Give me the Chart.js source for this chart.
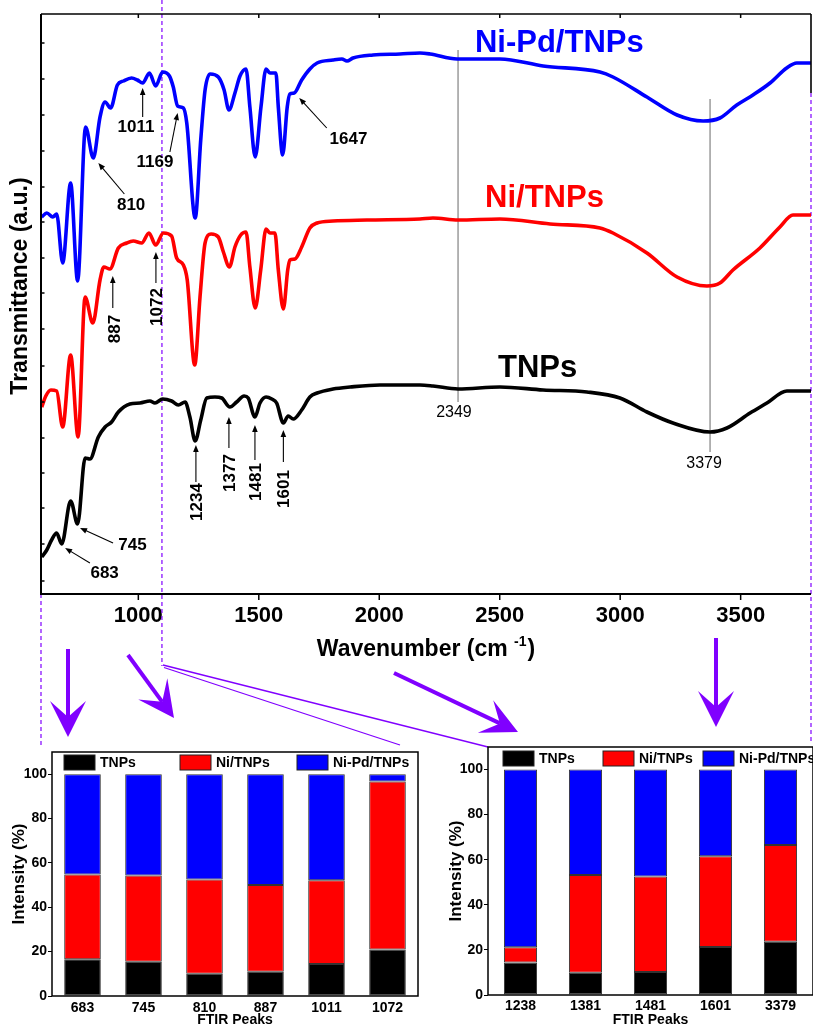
<!DOCTYPE html>
<html>
<head>
<meta charset="utf-8">
<script src="https://cdn.jsdelivr.net/npm/chart.js@4.4.1/dist/chart.umd.min.js"></script>
<style>
  html, body { margin: 0; padding: 0; background: #fff; }
  #wrap { position: relative; width: 813px; height: 1027px; overflow: hidden; }
  canvas { position: absolute; }
</style>
</head>
<body>
<div id="wrap">
  <canvas id="ftir" width="813" height="1027" style="left:0;top:0"></canvas>
  <canvas id="barsLow" width="420" height="330" style="left:0;top:700px"></canvas>
  <canvas id="barsHigh" width="393" height="330" style="left:420px;top:700px"></canvas>
</div>
<script>
const FONT = '"Liberation Sans", Arial, Helvetica, sans-serif';
const PURPLE = '#8000ff';

// FTIR spectra: wavenumber (cm-1) and transmittance (a.u.)
const tnpsWn = [599,620,640,661,682,719,748,779,799,834,862,889,917,965,1007,1048,1069,1101,1138,1166,1194,1214,1236,1259,1284,1318,1346,1380,1408,1439,1456,1484,1505,1530,1554,1574,1602,1622,1643,1678,1712,1742,1808,1879,2003,2169,2223,2327,2501,2680,2862,2999,3111,3219,3373,3443,3539,3609,3692,3792];
const tnpsT = [37,44,54,61,50,93,70,136,135,157,167,172,182,190,191,193,191,195,193,189,192,177,153,174,196,197,196,187,192,198,196,177,191,197,195,191,171,178,175,184,197,201,205,207,209,209,208,205,207,204,202,196,182,171,162,166,181,191,203,203];

const niWn = [599,616,637,661,686,719,750,779,811,841,857,882,917,952,979,1014,1044,1072,1104,1138,1159,1187,1203,1234,1256,1277,1302,1332,1353,1378,1401,1425,1447,1463,1485,1508,1530,1546,1567,1581,1602,1620,1629,1650,1678,1712,1742,1808,1949,2169,2223,2327,2501,2709,2916,2970,3111,3236,3360,3414,3468,3580,3663,3717,3792];
const niT = [187,198,204,203,167,239,157,297,271,314,327,325,346,351,353,351,361,349,361,358,336,329,314,229,297,351,360,357,342,327,347,359,362,327,286,324,365,361,361,324,285,324,334,335,347,366,371,373,374,375,376,374,375,370,366,361,341,317,308,311,324,346,367,379,379];

const nipdWn = [599,620,645,661,686,719,748,781,813,841,862,885,913,938,972,996,1018,1046,1072,1101,1129,1145,1163,1187,1201,1236,1259,1277,1298,1332,1356,1376,1401,1422,1447,1463,1485,1509,1530,1546,1571,1581,1599,1618,1629,1647,1678,1712,1742,1808,1845,1866,1891,1974,2086,2169,2211,2323,2501,2680,2916,2970,3111,3236,3344,3414,3484,3551,3622,3691,3733,3792];
const nipdT = [377,381,377,380,331,411,313,467,436,477,492,486,509,513,516,514,511,521,508,522,518,507,488,486,471,376,454,504,520,517,504,484,501,518,525,487,437,487,525,521,521,487,439,487,500,501,514,525,531,534,535,533,536,539,540,541,540,535,535,528,522,517,497,479,473,476,489,499,511,526,531,531];

const wnTicks = [1000, 1500, 2000, 2500, 3000, 3500];
const transTicks = [13, 50, 86, 121, 156, 192, 228, 265, 301, 336, 372, 407, 443, 479, 515, 551];

// relative peak intensities (%)
const lowPeaks = ['683', '745', '810', '887', '1011', '1072'];
const lowTnps = [16.6, 15.4, 10.0, 10.9, 14.4, 21.0];
const lowNi = [38.2, 38.9, 42.5, 39.1, 37.8, 75.7];
const lowNiPd = [45.2, 45.7, 47.5, 50.0, 47.8, 3.3];

const highPeaks = ['1238', '1381', '1481', '1601', '3379'];
const highTnps = [14.4, 9.9, 10.2, 21.3, 23.6];
const highNi = [6.8, 43.3, 42.4, 40.2, 42.9];
const highNiPd = [78.8, 46.8, 47.4, 38.5, 33.5];

const seriesNames = ['TNPs', 'Ni/TNPs', 'Ni-Pd/TNPs'];
const seriesColors = ['#000000', '#ff0000', '#0000ff'];

// annotations, placed in data units of the spectrum chart
const peakNotes = [
    {text: '1011', at: [990, 468], from: [1018, 477], to: [1018, 506]},
    {text: '1169', at: [1069, 433], from: [1131, 442], to: [1163, 481]},
    {text: '810', at: [970, 390], from: [942, 400], to: [834, 431]},
    {text: '1647', at: [1872, 456], from: [1782, 466], to: [1668, 496]},
    {text: '887', at: [899, 265], from: [894, 286], to: [894, 318], rot: true},
    {text: '1072', at: [1073, 287], from: [1073, 311], to: [1073, 342], rot: true},
    {text: '1234', at: [1239, 92], from: [1239, 112], to: [1239, 149], rot: true},
    {text: '1377', at: [1376, 121], from: [1376, 146], to: [1376, 177], rot: true},
    {text: '1481', at: [1484, 112], from: [1484, 134], to: [1484, 169], rot: true},
    {text: '1601', at: [1602, 105], from: [1602, 132], to: [1602, 164], rot: true},
    {text: '745', at: [976, 50], from: [895, 51], to: [758, 66]},
    {text: '683', at: [860, 22], from: [799, 31], to: [696, 46]}
];
const refLines = [
    {wn: 2327, top: 544, bottom: 192, text: '2349', at: [2310, 181]},
    {wn: 3373, top: 495, bottom: 142, text: '3379', at: [3348, 130]}
];
const seriesTags = [
    {text: 'Ni-Pd/TNPs', at: [2397, 542], color: '#0000ff'},
    {text: 'Ni/TNPs', at: [2439, 387], color: '#ff0000'},
    {text: 'TNPs', at: [2493, 217], color: '#000000'}
];
const guideWn = 1098;
// page-pixel pointers from the spectrum to the bar charts
const pointers = [[68, 649, 68, 737], [128, 655, 174, 718], [394, 673, 518, 732], [716, 638, 716, 727]];

function line(ctx, x1, y1, x2, y2) {
    ctx.beginPath();
    ctx.moveTo(x1, y1);
    ctx.lineTo(x2, y2);
    ctx.stroke();
}

function thinArrow(ctx, x1, y1, x2, y2) {
    const L = Math.hypot(x2 - x1, y2 - y1), ux = (x2 - x1) / L, uy = (y2 - y1) / L;
    const hl = 7, hw = 2.8;
    line(ctx, x1, y1, x2 - ux * hl * 0.8, y2 - uy * hl * 0.8);
    ctx.beginPath();
    ctx.moveTo(x2, y2);
    ctx.lineTo(x2 - ux * hl - uy * hw, y2 - uy * hl + ux * hw);
    ctx.lineTo(x2 - ux * hl + uy * hw, y2 - uy * hl - ux * hw);
    ctx.closePath();
    ctx.fill();
}

function fatArrow(ctx, x1, y1, x2, y2) {
    const L = Math.hypot(x2 - x1, y2 - y1), ux = (x2 - x1) / L, uy = (y2 - y1) / L;
    const px = -uy, py = ux, hl = 36, hw = 18, nd = 20;
    const nx = x2 - ux * nd, ny = y2 - uy * nd;
    ctx.lineWidth = 4;
    line(ctx, x1, y1, nx, ny);
    ctx.beginPath();
    ctx.moveTo(x2, y2);
    ctx.lineTo(x2 - ux * hl + px * hw, y2 - uy * hl + py * hw);
    ctx.lineTo(nx, ny);
    ctx.lineTo(x2 - ux * hl - px * hw, y2 - uy * hl - py * hw);
    ctx.closePath();
    ctx.fill();
}

const ftirDecor = {
    id: 'ftirDecor',
    beforeDatasetsDraw(chart) {
        const {ctx, chartArea: a, scales: {x, y}} = chart;
        ctx.save();
        ctx.strokeStyle = '#8c8c8c';
        ctx.lineWidth = 1.3;
        refLines.forEach(r => {
            const px = x.getPixelForValue(r.wn);
            line(ctx, px, y.getPixelForValue(r.top), px, y.getPixelForValue(r.bottom));
        });

        ctx.strokeStyle = PURPLE;
        ctx.lineWidth = 1.2;
        ctx.setLineDash([4, 3]);
        const gx = x.getPixelForValue(guideWn);
        line(ctx, gx, 0, gx, 666);
        line(ctx, a.left, a.bottom, a.left, 748);
        line(ctx, a.right, 93, a.right, 742);
        ctx.setLineDash([]);
        ctx.lineWidth = 1.3;
        line(ctx, gx + 1, 665, 488, 747);
        line(ctx, gx + 2, 667.5, 400, 745);

        ctx.fillStyle = PURPLE;
        pointers.forEach(p => fatArrow(ctx, p[0], p[1], p[2], p[3]));
        ctx.restore();
    },
    afterDatasetsDraw(chart) {
        const {ctx, chartArea: a, scales: {x, y}} = chart;
        ctx.save();
        ctx.strokeStyle = '#000';
        ctx.lineWidth = 2;
        line(ctx, a.left, a.top, a.left, a.bottom + 1);
        line(ctx, a.left, a.bottom, a.right, a.bottom);
        ctx.lineWidth = 1.6;
        line(ctx, a.left, a.top, a.right, a.top);
        line(ctx, a.right, a.top, a.right, 93);
        ctx.lineWidth = 1.5;
        wnTicks.forEach(v => {
            const px = x.getPixelForValue(v);
            line(ctx, px, a.bottom, px, a.bottom + 6);
            line(ctx, px, a.top, px, a.top + 4);
        });
        transTicks.forEach(v => {
            const py = y.getPixelForValue(v);
            line(ctx, a.left, py, a.left + 3.5, py);
        });

        // peak labels and arrows
        ctx.fillStyle = '#000';
        ctx.strokeStyle = '#000';
        ctx.lineWidth = 1.1;
        ctx.font = `bold 17px ${FONT}`;
        ctx.textAlign = 'center';
        ctx.textBaseline = 'middle';
        peakNotes.forEach(n => {
            thinArrow(ctx, x.getPixelForValue(n.from[0]), y.getPixelForValue(n.from[1]),
                x.getPixelForValue(n.to[0]), y.getPixelForValue(n.to[1]));
            const tx = x.getPixelForValue(n.at[0]), ty = y.getPixelForValue(n.at[1]);
            if (n.rot) {
                ctx.save();
                ctx.translate(tx, ty);
                ctx.rotate(-Math.PI / 2);
                ctx.fillText(n.text, 0, 1);
                ctx.restore();
            } else {
                ctx.fillText(n.text, tx, ty + 1);
            }
        });
        ctx.font = `16px ${FONT}`;
        refLines.forEach(r => ctx.fillText(r.text, x.getPixelForValue(r.at[0]), y.getPixelForValue(r.at[1])));

        ctx.font = `bold 31px ${FONT}`;
        ctx.textAlign = 'left';
        ctx.textBaseline = 'alphabetic';
        seriesTags.forEach(t => {
            ctx.fillStyle = t.color;
            ctx.fillText(t.text, x.getPixelForValue(t.at[0]), y.getPixelForValue(t.at[1]));
        });

        // axis titles
        ctx.fillStyle = '#000';
        ctx.font = `bold 23px ${FONT}`;
        const t1 = 'Wavenumber (cm ', t3 = ')';
        const w1 = ctx.measureText(t1).width, w3 = ctx.measureText(t3).width;
        ctx.font = `bold 14px ${FONT}`;
        const w2 = ctx.measureText('-1').width + 1;
        let sx = (a.left + a.right) / 2 - (w1 + w2 + w3) / 2;
        ctx.font = `bold 23px ${FONT}`;
        ctx.fillText(t1, sx, 656);
        ctx.font = `bold 14px ${FONT}`;
        ctx.fillText('-1', sx + w1, 646);
        ctx.font = `bold 23px ${FONT}`;
        ctx.fillText(t3, sx + w1 + w2, 656);

        ctx.save();
        ctx.translate(21, 286);
        ctx.rotate(-Math.PI / 2);
        ctx.textAlign = 'center';
        ctx.textBaseline = 'middle';
        ctx.fillText('Transmittance (a.u.)', 0, 0);
        ctx.restore();
        ctx.restore();
    }
};

const pts = (xs, ys) => xs.map((v, i) => ({x: v, y: ys[i]}));

new Chart(document.getElementById('ftir'), {
    type: 'line',
    data: {
        datasets: [
            {label: seriesNames[0], data: pts(tnpsWn, tnpsT), borderColor: seriesColors[0]},
            {label: seriesNames[1], data: pts(niWn, niT), borderColor: seriesColors[1]},
            {label: seriesNames[2], data: pts(nipdWn, nipdT), borderColor: seriesColors[2]}
        ]
    },
    options: {
        responsive: false,
        animation: false,
        layout: {padding: {top: 14, right: 2, left: 0, bottom: 0}},
        elements: {
            point: {radius: 0},
            line: {borderWidth: 3.6, cubicInterpolationMode: 'monotone'}
        },
        plugins: {legend: {display: false}, tooltip: {enabled: false}},
        scales: {
            x: {
                type: 'linear',
                min: 596,
                max: 3792,
                grid: {display: false, drawTicks: false},
                border: {display: false},
                afterBuildTicks: s => { s.ticks = wnTicks.map(v => ({value: v})); },
                afterFit: s => { s.height = 1027 - 594; },
                ticks: {
                    padding: 9,
                    color: '#000',
                    autoSkip: false,
                    maxRotation: 0,
                    font: {family: FONT, size: 22, weight: 'bold'},
                    callback: v => String(v)
                }
            },
            y: {
                min: 0,
                max: 580,
                ticks: {display: false},
                grid: {display: false, drawTicks: false},
                border: {display: false},
                afterFit: s => { s.width = 41; }
            }
        }
    },
    plugins: [ftirDecor]
});

function makeBarDecor(boxOffsets, boxTop) {
    return {
        id: 'barDecor',
        afterDraw(chart) {
            const {ctx, chartArea: a} = chart;
            ctx.save();
            ctx.strokeStyle = '#000';
            ctx.lineWidth = 1.5;
            ctx.strokeRect(a.left, a.top, a.right - a.left, a.bottom - a.top);
            ctx.font = `bold 14px ${FONT}`;
            ctx.textBaseline = 'middle';
            ctx.textAlign = 'left';
            seriesNames.forEach((name, i) => {
                const bx = a.left + boxOffsets[i], by = a.top + boxTop;
                ctx.fillStyle = seriesColors[i];
                ctx.fillRect(bx, by, 31, 15);
                ctx.lineWidth = 1;
                ctx.strokeStyle = '#222';
                ctx.strokeRect(bx, by, 31, 15);
                ctx.fillStyle = '#000';
                ctx.fillText(name, bx + 36, by + 8);
            });
            ctx.restore();
        }
    };
}

function barChart(id, peaks, tnps, ni, nipd, cfg) {
    const mk = (i, data) => ({
        label: seriesNames[i],
        data: data,
        backgroundColor: seriesColors[i],
        borderColor: '#333',
        borderWidth: 1,
        borderSkipped: false,
        barPercentage: cfg.bar,
        categoryPercentage: 1
    });
    return new Chart(document.getElementById(id), {
        type: 'bar',
        data: {labels: peaks, datasets: [mk(0, tnps), mk(1, ni), mk(2, nipd)]},
        options: {
            responsive: false,
            animation: false,
            layout: {padding: {top: cfg.top, right: cfg.right, left: 0, bottom: 0}},
            plugins: {legend: {display: false}, tooltip: {enabled: false}},
            scales: {
                x: {
                    stacked: true,
                    grid: {display: false, drawTicks: false},
                    border: {display: false},
                    afterFit: s => { s.height = cfg.xh; },
                    ticks: {padding: cfg.xpad, color: '#000', autoSkip: false, maxRotation: 0,
                        font: {family: FONT, size: 14, weight: 'bold'}},
                    title: {display: true, text: 'FTIR Peaks', color: '#000', padding: {top: 0, bottom: 1.6},
                        font: {family: FONT, size: 14, weight: 'bold'}}
                },
                y: {
                    stacked: true,
                    min: 0,
                    max: 110,
                    grid: {display: true, drawOnChartArea: false, drawTicks: true, tickLength: 4, color: '#000'},
                    border: {display: false},
                    afterFit: s => { s.width = cfg.yw; },
                    ticks: {stepSize: 20, includeBounds: false, padding: 1, color: '#000',
                        font: {family: FONT, size: 14, weight: 'bold'}},
                    title: {display: true, text: 'Intensity (%)', color: '#000', padding: {top: cfg.tpad, bottom: 0},
                        font: {family: FONT, size: 17, weight: 'bold'}}
                }
            }
        },
        plugins: [makeBarDecor(cfg.boxes, cfg.boxTop)]
    });
}

barChart('barsLow', lowPeaks, lowTnps, lowNi, lowNiPd,
    {top: 52, right: 2, xh: 34, yw: 52, bar: 0.6, xpad: 4, tpad: 9, boxes: [12, 128, 245], boxTop: 3});
barChart('barsHigh', highPeaks, highTnps, highNi, highNiPd,
    {top: 47, right: 0, xh: 35, yw: 68, bar: 0.51, xpad: 3, tpad: 26, boxes: [15, 115, 215], boxTop: 4});
</script>
</body>
</html>
